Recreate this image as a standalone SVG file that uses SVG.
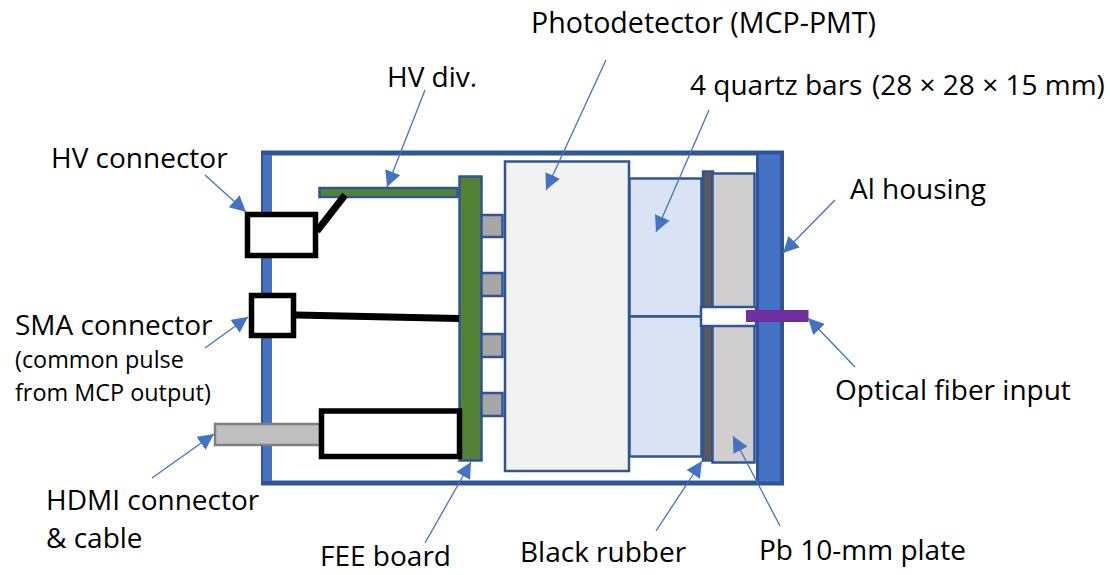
<svg xmlns="http://www.w3.org/2000/svg" width="1110" height="575" viewBox="0 0 1110 575">
<style>
text{font-family:"Open Sans","Noto Sans","DejaVu Sans",sans-serif;font-size:28px;fill:#000}
.s{font-size:23.4px}
.b{stroke:#2F5597;stroke-width:2.5}
.k{fill:#fff;stroke:#000;stroke-width:5.5}
.w{fill:none;stroke:#000;stroke-width:7}
.a{stroke:#4472C4;stroke-width:1.3;fill:none;marker-end:url(#h)}
</style>
<defs><marker id="h" markerUnits="userSpaceOnUse" markerWidth="18" markerHeight="18" refX="16" refY="8" orient="auto"><path d="M0 0L16 8L0 16Z" fill="#4472C4"/></marker></defs>
<rect width="1110" height="575" fill="#fff"/>
<g id="housing">
<rect x="263.500" y="153" width="518" height="330" fill="#fff" stroke="#2F5597" stroke-width="5"/>
<rect x="263" y="155" width="9" height="326" fill="#4472C4"/>
<rect x="757.500" y="153" width="24" height="330" fill="#4472C4" stroke="#2F5597" stroke-width="3"/>
</g>
<g id="hv-div"><rect x="319.500" y="188" width="138" height="9" fill="#548235" class="b"/></g>
<g id="fee-board"><rect x="459.500" y="176.500" width="22" height="284" fill="#548235" class="b"/></g>
<g id="chips">
<rect x="481.500" y="215" width="21" height="22" fill="#A6A6A6" class="b"/>
<rect x="481.500" y="273" width="21" height="23" fill="#A6A6A6" class="b"/>
<rect x="481.500" y="334" width="21" height="23" fill="#A6A6A6" class="b"/>
<rect x="481.500" y="393" width="21" height="23" fill="#A6A6A6" class="b"/>
</g>
<g id="photodetector"><rect x="505" y="161.500" width="124" height="309.500" fill="#F2F2F2" class="b"/></g>
<g id="quartz">
<rect x="629.500" y="178.500" width="72" height="138" fill="#DAE3F3" class="b"/>
<rect x="629.500" y="316.500" width="72" height="140" fill="#DAE3F3" class="b"/>
</g>
<g id="black-rubber"><rect x="703" y="171.500" width="10" height="289" fill="#595959" class="b"/></g>
<g id="pb-plate"><rect x="712.500" y="173.500" width="42" height="289" fill="#D0CECE" class="b"/></g>
<g id="fiber-slot">
<rect x="701" y="307" width="55" height="19" fill="#fff" class="b"/>
<rect x="746" y="310" width="62.500" height="12" fill="#7030A0"/>
</g>
<g id="connectors-body">
<rect x="247.500" y="214.500" width="68" height="41" class="k"/>
<rect x="251.500" y="295.500" width="42" height="40" class="k"/>
<rect x="215" y="424" width="105" height="21" fill="#BFBFBF" stroke="#7F7F7F" stroke-width="2.500"/>
<rect x="321.500" y="411" width="138" height="45.500" class="k"/>
</g>
<g id="connectors">
<path class="w" d="M317 231L345 195"/>
<path class="w" d="M296 315L459 318.500"/>
<path class="a" d="M606 60L546 190"/>
<path class="a" d="M425 90L387 187"/>
<path class="a" d="M205 175L246 212"/>
<path class="a" d="M205 348L248 317"/>
<path class="a" d="M152 478L214 434"/>
<path class="a" d="M425 543L471 462"/>
<path class="a" d="M656 531L702 461"/>
<path class="a" d="M780 526L733 436"/>
<path class="a" d="M855 367L808 318"/>
<path class="a" d="M835 200L783 253"/>
<path class="a" d="M709 110L656 232"/>
</g>
<g id="labels">
<text x="531" y="33" style="font-size:28.6px">Photodetector (MCP-PMT)</text>
<text x="387" y="87">HV div.</text>
<text x="690" y="95">4 quartz bars <tspan x="872">(28 × 28 × 15 mm)</tspan></text>
<text x="51" y="168">HV connector</text>
<text x="850" y="199">Al housing</text>
<text x="15" y="335">SMA connector</text>
<text class="s" x="15" y="368">(common pulse</text>
<text class="s" x="15" y="401">from MCP output)</text>
<text x="835" y="400">Optical fiber input</text>
<text x="46" y="510">HDMI connector</text>
<text x="46" y="548">&amp; cable</text>
<text x="320" y="566">FEE board</text>
<text x="520" y="562">Black rubber</text>
<text x="759" y="560">Pb 10-mm plate</text>
</g>
</svg>
